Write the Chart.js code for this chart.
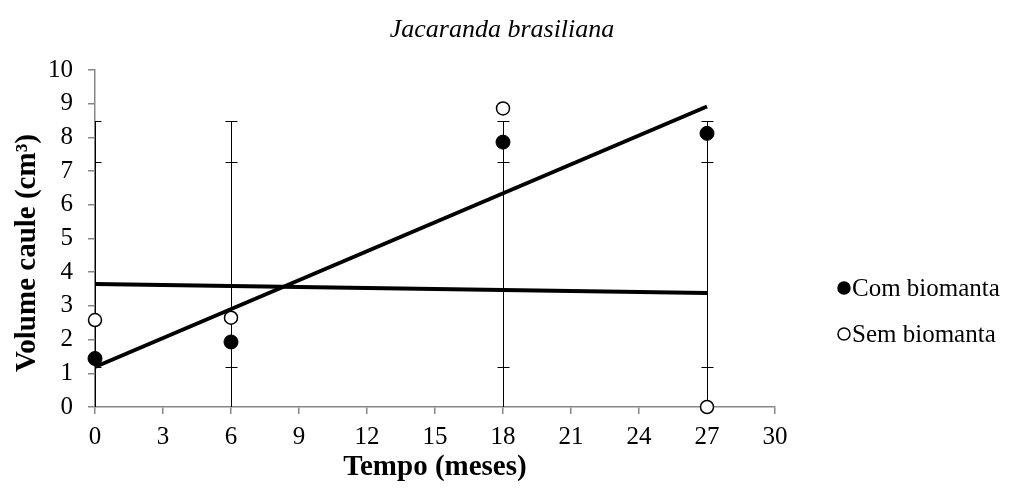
<!DOCTYPE html>
<html lang="pt">
  <head>
    <meta charset="UTF-8" />
    <title>Jacaranda brasiliana</title>
    <script src="https://cdn.jsdelivr.net/npm/chart.js@4.4.0/dist/chart.umd.min.js"></script>
    <style>
      html, body { margin: 0; padding: 0; background: #fff; }
      #wrap { width: 1010px; height: 495px; }
    </style>
  </head>
  <body>
    <div id="wrap"><canvas id="chart" width="1010" height="495"></canvas></div>
    <script>
      const chartTitle = 'Jacaranda brasiliana';

      // months after planting
      const months = [0, 6, 18, 27];
      const comBiomanta = [1.44, 1.93, 7.86, 8.12];
      const semBiomanta = [2.58, 2.65, 8.86, 0];

      // error bars (two bars per month, the lower one runs below the axis)
      const errALow = [1.2, 1.2, 1.2, 1.2];
      const errAHigh = [8.48, 8.48, 8.48, 8.48];
      const errBLow = [-2.3, -2.3, -2.3, -2.3];
      const errBHigh = [7.27, 7.27, 7.27, 7.27];

      const xMin = 0, xMax = 30, xStep = 3;
      const yMin = 0, yMax = 10, yStep = 1;

      const FONT = "'Liberation Serif', 'Times New Roman', serif";

      // least squares line through a series, from first to last month
      function trend(xs, ys) {
        const n = xs.length;
        const mx = xs.reduce((a, b) => a + b, 0) / n;
        const my = ys.reduce((a, b) => a + b, 0) / n;
        let sxy = 0, sxx = 0;
        for (let i = 0; i < n; i++) {
          sxy += (xs[i] - mx) * (ys[i] - my);
          sxx += (xs[i] - mx) * (xs[i] - mx);
        }
        const b = sxy / sxx;
        const a = my - b * mx;
        const x0 = xs[0], x1 = xs[n - 1];
        return [{ x: x0, y: a + b * x0 }, { x: x1, y: a + b * x1 }];
      }

      const toPoints = (ys) => months.map((m, i) => ({ x: m, y: ys[i] }));

      const errorBars = {
        id: 'errorBars',
        beforeDatasetsDraw(chart) {
          const { ctx, chartArea, scales } = chart;
          const x = scales.x, y = scales.y;
          ctx.save();
          ctx.beginPath();
          ctx.rect(chartArea.left, chartArea.top, chartArea.right - chartArea.left, chartArea.bottom - chartArea.top);
          ctx.clip();
          ctx.strokeStyle = '#000';
          ctx.lineWidth = 1;
          const cap = 6;
          const bars = [[errALow, errAHigh], [errBLow, errBHigh]];
          months.forEach((m, i) => {
            const px = Math.round(x.getPixelForValue(m)) + 0.5;
            bars.forEach(([lo, hi]) => {
              const y0 = y.getPixelForValue(lo[i]);
              const y1 = y.getPixelForValue(hi[i]);
              ctx.beginPath();
              ctx.moveTo(px, y0);
              ctx.lineTo(px, y1);
              ctx.moveTo(px - cap, Math.round(y0) + 0.5);
              ctx.lineTo(px + cap, Math.round(y0) + 0.5);
              ctx.moveTo(px - cap, Math.round(y1) + 0.5);
              ctx.lineTo(px + cap, Math.round(y1) + 0.5);
              ctx.stroke();
            });
          });
          ctx.restore();
        }
      };

      // title over the whole canvas + legend on the right
      const headAndLegend = {
        id: 'headAndLegend',
        afterDraw(chart) {
          const { ctx, width } = chart;
          ctx.save();
          ctx.fillStyle = '#000';
          ctx.textAlign = 'center';
          ctx.textBaseline = 'middle';
          ctx.font = 'italic 26px ' + FONT;
          ctx.fillText(chartTitle, width / 2 - 3, 30);

          const items = chart.data.datasets.filter((d) => d.label);
          ctx.font = '25px ' + FONT;
          ctx.textAlign = 'left';
          items.forEach((d, i) => {
            const cx = 844, cy = 288 + i * 46;
            ctx.beginPath();
            ctx.arc(cx, cy, 6, 0, Math.PI * 2);
            ctx.fillStyle = d.pointBackgroundColor;
            ctx.fill();
            ctx.lineWidth = 1.5;
            ctx.strokeStyle = '#000';
            ctx.stroke();
            ctx.fillStyle = '#000';
            ctx.fillText(d.label, 852, cy + 1);
          });
          ctx.restore();
        }
      };

      new Chart(document.getElementById('chart'), {
        type: 'scatter',
        data: {
          datasets: [
            {
              type: 'line',
              data: trend(months, comBiomanta),
              borderColor: '#000',
              borderWidth: 4,
              pointRadius: 0,
              fill: false,
              order: 1,
            },
            {
              type: 'line',
              data: trend(months, semBiomanta),
              borderColor: '#000',
              borderWidth: 4,
              pointRadius: 0,
              fill: false,
              order: 1,
            },
            {
              label: 'Com biomanta',
              data: toPoints(comBiomanta),
              pointRadius: 7,
              pointBackgroundColor: '#000',
              pointBorderColor: '#000',
              pointBorderWidth: 1,
              order: 2,
            },
            {
              label: 'Sem biomanta',
              data: toPoints(semBiomanta),
              pointRadius: 6.5,
              pointBackgroundColor: '#fff',
              pointBorderColor: '#000',
              pointBorderWidth: 1.5,
              order: 2,
            },
          ],
        },
        options: {
          responsive: false,
          animation: false,
          clip: false,
          layout: { padding: { left: 0, right: 235, top: 70, bottom: 0 } },
          plugins: {
            legend: { display: false },
            tooltip: { enabled: false },
            title: { display: false },
          },
          scales: {
            x: {
              type: 'linear',
              min: xMin,
              max: xMax,
              afterFit(scale) { scale.height = 88; },
              ticks: { stepSize: xStep, color: '#000', padding: 8, font: { family: FONT, size: 25 } },
              grid: { drawOnChartArea: false, drawTicks: true, tickLength: 7, color: '#878787', lineWidth: 1.5 },
              border: { display: true, color: '#878787', width: 1.5 },
              title: {
                display: true,
                text: 'Tempo (meses)',
                color: '#000',
                font: { family: FONT, size: 29, weight: 'bold' },
                padding: { top: 0, bottom: 9.6 },
              },
            },
            y: {
              type: 'linear',
              min: yMin,
              max: yMax,
              afterFit(scale) { scale.width = 95; },
              ticks: { stepSize: yStep, color: '#000', padding: 15, font: { family: FONT, size: 25 } },
              grid: { drawOnChartArea: false, drawTicks: true, tickLength: 7, color: '#878787', lineWidth: 1.5 },
              border: { display: true, color: '#878787', width: 1.5 },
              title: {
                display: true,
                text: 'Volume caule (cm\u00b3)\u00a0\u00a0\u00a0\u00a0',
                color: '#000',
                font: { family: FONT, size: 29, weight: 'bold' },
                padding: { top: 10, bottom: 0 },
              },
            },
          },
        },
        plugins: [errorBars, headAndLegend],
      });
    </script>
  </body>
</html>
